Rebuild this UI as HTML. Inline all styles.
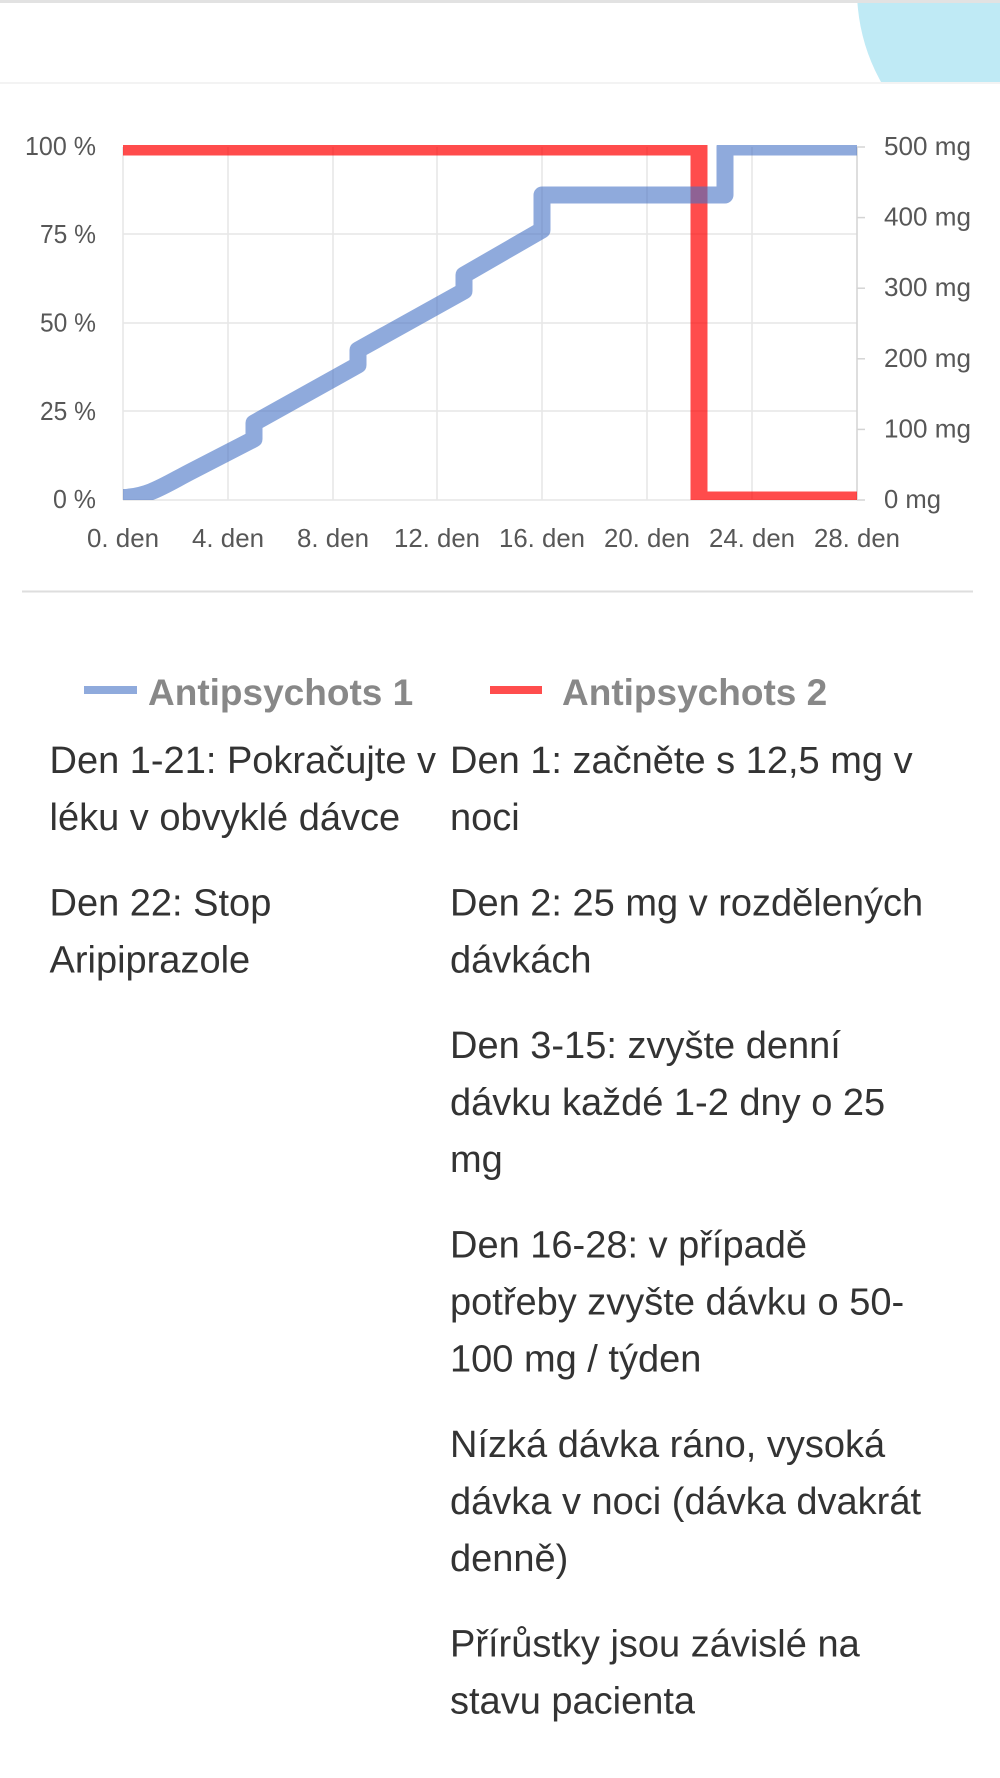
<!DOCTYPE html>
<html>
<head>
<meta charset="utf-8">
<style>
html,body{margin:0;padding:0;background:#fff;}
svg{display:block;}
.ax{font-family:"Liberation Sans",Arial,sans-serif;font-size:26px;fill:#575757;}
.lg{font-family:"Liberation Sans",Arial,sans-serif;font-size:37px;font-weight:bold;fill:#888888;}
.tx{font-family:"Liberation Sans",Arial,sans-serif;font-size:38px;fill:#333333;}
</style>
</head>
<body>
<svg width="1000" height="1778" viewBox="0 0 1000 1778" xmlns="http://www.w3.org/2000/svg">
  <defs>
    <clipPath id="hd"><rect x="0" y="3" width="1000" height="79"/></clipPath>
    <clipPath id="pl"><rect x="123" y="145" width="734" height="355"/></clipPath>
  </defs>
  <rect x="0" y="0" width="1000" height="1778" fill="#ffffff"/>

  <!-- header -->
  <circle cx="1045" cy="-10" r="188" fill="#bfeaf5" clip-path="url(#hd)"/>
  <rect x="0" y="0" width="1000" height="3" fill="#e2e2e2"/>
  <rect x="0" y="82" width="1000" height="2" fill="#f3f3f3"/>

  <!-- grid -->
  <g stroke="#e6e6e6" stroke-width="1.5" fill="none">
    <line x1="123" y1="234" x2="857" y2="234"/>
    <line x1="123" y1="323" x2="857" y2="323"/>
    <line x1="123" y1="411" x2="857" y2="411"/>
    <line x1="123" y1="500" x2="857" y2="500"/>
    <line x1="123" y1="147" x2="123" y2="500"/>
    <line x1="228" y1="147" x2="228" y2="500"/>
    <line x1="333" y1="147" x2="333" y2="500"/>
    <line x1="437" y1="147" x2="437" y2="500"/>
    <line x1="542" y1="147" x2="542" y2="500"/>
    <line x1="647" y1="147" x2="647" y2="500"/>
    <line x1="752" y1="147" x2="752" y2="500"/>
  </g>
  <!-- right axis -->
  <g stroke="#d4d4d4" stroke-width="1.5" fill="none">
    <line x1="857" y1="147" x2="857" y2="500"/>
    <line x1="857" y1="147" x2="865" y2="147"/>
    <line x1="857" y1="217.6" x2="865" y2="217.6"/>
    <line x1="857" y1="288.2" x2="865" y2="288.2"/>
    <line x1="857" y1="358.8" x2="865" y2="358.8"/>
    <line x1="857" y1="429.4" x2="865" y2="429.4"/>
    <line x1="857" y1="500" x2="865" y2="500"/>
  </g>

  <!-- series -->
  <g clip-path="url(#pl)" fill="none" stroke-width="17">
    <path d="M110,147 L699,147 L699,500 L870,500" stroke="#ff0000" stroke-opacity="0.7" stroke-linejoin="miter"/>
    <path d="M123,497.5 C148,497 165,485 190,472 L254,439 L254,423 L358,365 L358,350 L464,291 L464,275 L542,230 L542,195 L725,195 L725,147 L870,147" stroke="#4472c4" stroke-opacity="0.6" stroke-linejoin="round"/>
  </g>

  <!-- left axis labels -->
  <g class="ax" text-anchor="end">
    <text x="96" y="155" textLength="71" lengthAdjust="spacingAndGlyphs">100 %</text>
    <text x="96" y="243" textLength="56" lengthAdjust="spacingAndGlyphs">75 %</text>
    <text x="96" y="331.5" textLength="56" lengthAdjust="spacingAndGlyphs">50 %</text>
    <text x="96" y="420" textLength="56" lengthAdjust="spacingAndGlyphs">25 %</text>
    <text x="96" y="508" textLength="43" lengthAdjust="spacingAndGlyphs">0 %</text>
  </g>
  <!-- right axis labels -->
  <g class="ax">
    <text x="884" y="155" textLength="87" lengthAdjust="spacingAndGlyphs">500 mg</text>
    <text x="884" y="225.6" textLength="87" lengthAdjust="spacingAndGlyphs">400 mg</text>
    <text x="884" y="296.2" textLength="87" lengthAdjust="spacingAndGlyphs">300 mg</text>
    <text x="884" y="366.8" textLength="87" lengthAdjust="spacingAndGlyphs">200 mg</text>
    <text x="884" y="437.4" textLength="87" lengthAdjust="spacingAndGlyphs">100 mg</text>
    <text x="884" y="508" textLength="57" lengthAdjust="spacingAndGlyphs">0 mg</text>
  </g>
  <!-- x axis labels -->
  <g class="ax" text-anchor="middle">
    <text x="123" y="547" textLength="72" lengthAdjust="spacingAndGlyphs">0. den</text>
    <text x="228" y="547" textLength="72" lengthAdjust="spacingAndGlyphs">4. den</text>
    <text x="333" y="547" textLength="72" lengthAdjust="spacingAndGlyphs">8. den</text>
    <text x="437" y="547" textLength="86" lengthAdjust="spacingAndGlyphs">12. den</text>
    <text x="542" y="547" textLength="86" lengthAdjust="spacingAndGlyphs">16. den</text>
    <text x="647" y="547" textLength="86" lengthAdjust="spacingAndGlyphs">20. den</text>
    <text x="752" y="547" textLength="86" lengthAdjust="spacingAndGlyphs">24. den</text>
    <text x="857" y="547" textLength="86" lengthAdjust="spacingAndGlyphs">28. den</text>
  </g>

  <!-- separator -->
  <rect x="22" y="590.5" width="951" height="2" fill="#dedede"/>

  <!-- legend -->
  <rect x="84" y="686" width="53" height="8" fill="#8faadc"/>
  <text class="lg" x="148" y="705">Antipsychots 1</text>
  <rect x="490" y="686" width="52" height="8" fill="#ff4d4d"/>
  <text class="lg" x="562" y="705">Antipsychots 2</text>

  <!-- left column -->
  <g class="tx">
    <text x="49.5" y="773">Den 1-21: Pokračujte v</text>
    <text x="49.5" y="830">léku v obvyklé dávce</text>
    <text x="49.5" y="915.5">Den 22: Stop</text>
    <text x="49.5" y="972.5">Aripiprazole</text>
  </g>
  <!-- right column -->
  <g class="tx">
    <text x="450" y="773">Den 1: začněte s 12,5 mg v</text>
    <text x="450" y="830">noci</text>
    <text x="450" y="915.5">Den 2: 25 mg v rozdělených</text>
    <text x="450" y="972.5">dávkách</text>
    <text x="450" y="1058">Den 3-15: zvyšte denní</text>
    <text x="450" y="1115">dávku každé 1-2 dny o 25</text>
    <text x="450" y="1172">mg</text>
    <text x="450" y="1257.5">Den 16-28: v případě</text>
    <text x="450" y="1314.5">potřeby zvyšte dávku o 50-</text>
    <text x="450" y="1371.5">100 mg / týden</text>
    <text x="450" y="1457">Nízká dávka ráno, vysoká</text>
    <text x="450" y="1514">dávka v noci (dávka dvakrát</text>
    <text x="450" y="1571">denně)</text>
    <text x="450" y="1656.5">Přírůstky jsou závislé na</text>
    <text x="450" y="1713.5">stavu pacienta</text>
  </g>
</svg>
</body>
</html>
